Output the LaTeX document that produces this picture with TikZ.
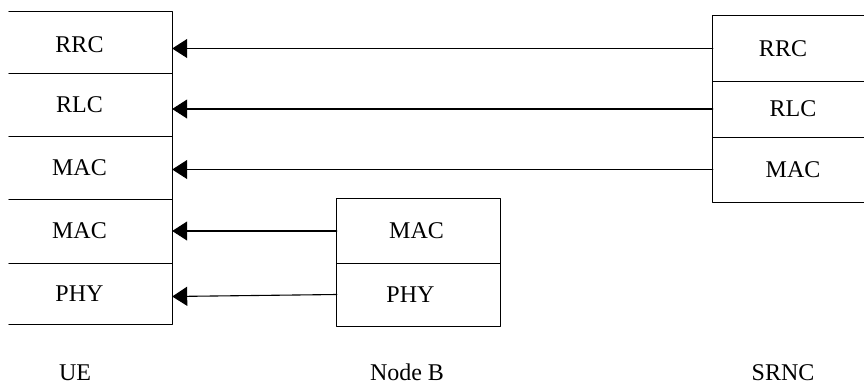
\documentclass[tikz,border=0pt]{standalone}
\usepackage{fontspec}
\setmainfont{Liberation Serif}
\usetikzlibrary{arrows.meta}
\begin{document}
\begin{tikzpicture}[x=1pt,y=-1pt,line cap=round,line join=round,
  font=\fontsize{24}{28}\selectfont,
  layer/.style={minimum width=163pt,inner sep=0pt},
  msg/.style={line width=1.1pt,-{Triangle[length=15pt,width=19pt]}}]
  \useasboundingbox (0,0) rectangle (864,386);
  % UE stack
  \node[layer,minimum height=61pt,label={[xshift=-11pt,yshift=-2pt]center:RRC}] (ue1) at (90.5,42.5) {};
  \node[layer,minimum height=63pt,label={[xshift=-11pt]center:RLC}] (ue2) at (90.5,104.5) {};
  \node[layer,minimum height=63pt,label={[xshift=-11pt]center:MAC}] (ue3) at (90.5,167.5) {};
  \node[layer,minimum height=64pt,label={[xshift=-11pt]center:MAC}] (ue4) at (90.5,231) {};
  \node[layer,minimum height=61pt,label={[xshift=-11pt]center:PHY}] (ue5) at (90.5,293.5) {};
  \draw[line width=1pt] (ue1.north west) -- (ue1.north east) -- (ue5.south east) -- (ue5.south west);
  \foreach \n in {1,...,4}
    \draw[line width=1pt] (ue\n.south west) -- (ue\n.south east);
  % Node B stack
  \node[layer,minimum height=64pt,label={[xshift=-2pt]center:MAC}] (nb1) at (418.5,231) {};
  \node[layer,minimum height=63pt,label={[xshift=-8pt]center:PHY}] (nb2) at (418.5,294.5) {};
  \draw[line width=1pt] (nb1.north west) rectangle (nb2.south east);
  \draw[line width=1pt] (nb1.south west) -- (nb1.south east);
  % SRNC stack
  \node[layer,minimum width=160pt,minimum height=65pt,label={[xshift=-10pt]center:RRC}] (rnc1) at (793,48.5) {};
  \node[layer,minimum width=160pt,minimum height=56pt,label={center:RLC}] (rnc2) at (793,109) {};
  \node[layer,minimum width=160pt,minimum height=65pt,label={center:MAC}] (rnc3) at (793,169.5) {};
  \draw[line width=1pt] (rnc1.north east) -- (rnc1.north west) -- (rnc3.south west) -- (rnc3.south east);
  \draw[line width=1pt] (rnc1.south west) -- (rnc1.south east);
  \draw[line width=1pt] (rnc2.south west) -- (rnc2.south east);
  % peer links
  \draw[msg] (rnc1.west) -- (rnc1.west -| ue1.east);
  \draw[msg] (rnc2.west) -- (rnc2.west -| ue2.east);
  \draw[msg] (rnc3.west) -- (rnc3.west -| ue3.east);
  \draw[msg] (nb1.west) -- (nb1.west -| ue4.east);
  \draw[msg] (nb2.west) -- ([yshift=-3pt]ue5.east);
  % entity names
  \node[anchor=base,inner sep=0pt] (ue) at (75,380) {UE};
  \node[anchor=base,inner sep=0pt] (nodeb) at (407,380) {Node B};
  \node[anchor=base,inner sep=0pt] (srnc) at (783,380) {SRNC};
\end{tikzpicture}
\end{document}
